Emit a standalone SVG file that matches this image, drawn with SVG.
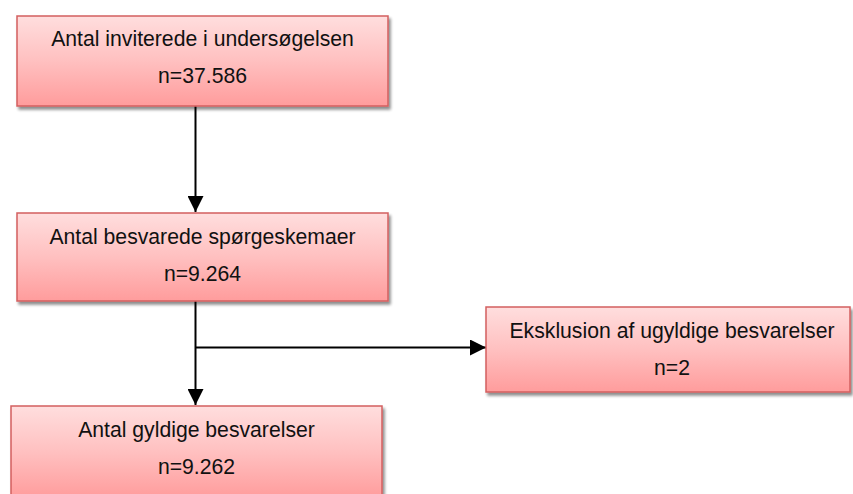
<svg xmlns="http://www.w3.org/2000/svg" width="853" height="494" viewBox="0 0 853 494">
<defs>
<linearGradient id="fill" x1="0" y1="0" x2="0" y2="1">
<stop offset="0" stop-color="#FFDEDE"/>
<stop offset="0.5" stop-color="#FFC0C0"/>
<stop offset="1" stop-color="#FF9C9C"/>
</linearGradient>
<filter id="shadow" x="-5%" y="-10%" width="115%" height="130%">
<feGaussianBlur in="SourceAlpha" stdDeviation="1.5"/>
<feOffset dx="2" dy="3" result="b"/>
<feComponentTransfer><feFuncA type="linear" slope="0.45"/></feComponentTransfer>
<feMerge><feMergeNode/><feMergeNode in="SourceGraphic"/></feMerge>
</filter>
<marker id="arrow" viewBox="0 0 16 16" refX="16" refY="8" markerWidth="16" markerHeight="16" markerUnits="userSpaceOnUse" orient="auto">
<path d="M0,0 L16,8 L0,16 Z" fill="#000"/>
</marker>
</defs>
<style>
.box{fill:url(#fill);stroke:#D35F5F;stroke-width:1.5;filter:url(#shadow);}
.t{font-family:"Liberation Sans",Arial,sans-serif;font-size:21.2px;fill:#111;text-anchor:middle;}
.c{stroke:#000;stroke-width:2;fill:none;}
</style>
<g id="connectors">
<line class="c" x1="195.5" y1="106" x2="195.5" y2="212" marker-end="url(#arrow)"/>
<line class="c" x1="195.5" y1="301" x2="195.5" y2="405" marker-end="url(#arrow)"/>
<line class="c" x1="195.5" y1="347.5" x2="486" y2="347.5" marker-end="url(#arrow)"/>
</g>
<g id="n1">
<rect class="box" x="17" y="16" width="371" height="90"/>
<text class="t" x="202.5" y="46">Antal inviterede i undersøgelsen</text>
<text class="t" x="202.5" y="83">n=37.586</text>
</g>
<g id="n2">
<rect class="box" x="17" y="213" width="371" height="88"/>
<text class="t" x="202.5" y="244">Antal besvarede spørgeskemaer</text>
<text class="t" x="202.5" y="281">n=9.264</text>
</g>
<g id="n3">
<rect class="box" x="11" y="406" width="371" height="92"/>
<text class="t" x="196.5" y="437">Antal gyldige besvarelser</text>
<text class="t" x="196.5" y="474">n=9.262</text>
</g>
<g id="n4">
<rect class="box" x="486" y="307" width="364" height="85"/>
<text class="t" x="672" y="338">Eksklusion af ugyldige besvarelser</text>
<text class="t" x="672" y="375">n=2</text>
</g>
</svg>
